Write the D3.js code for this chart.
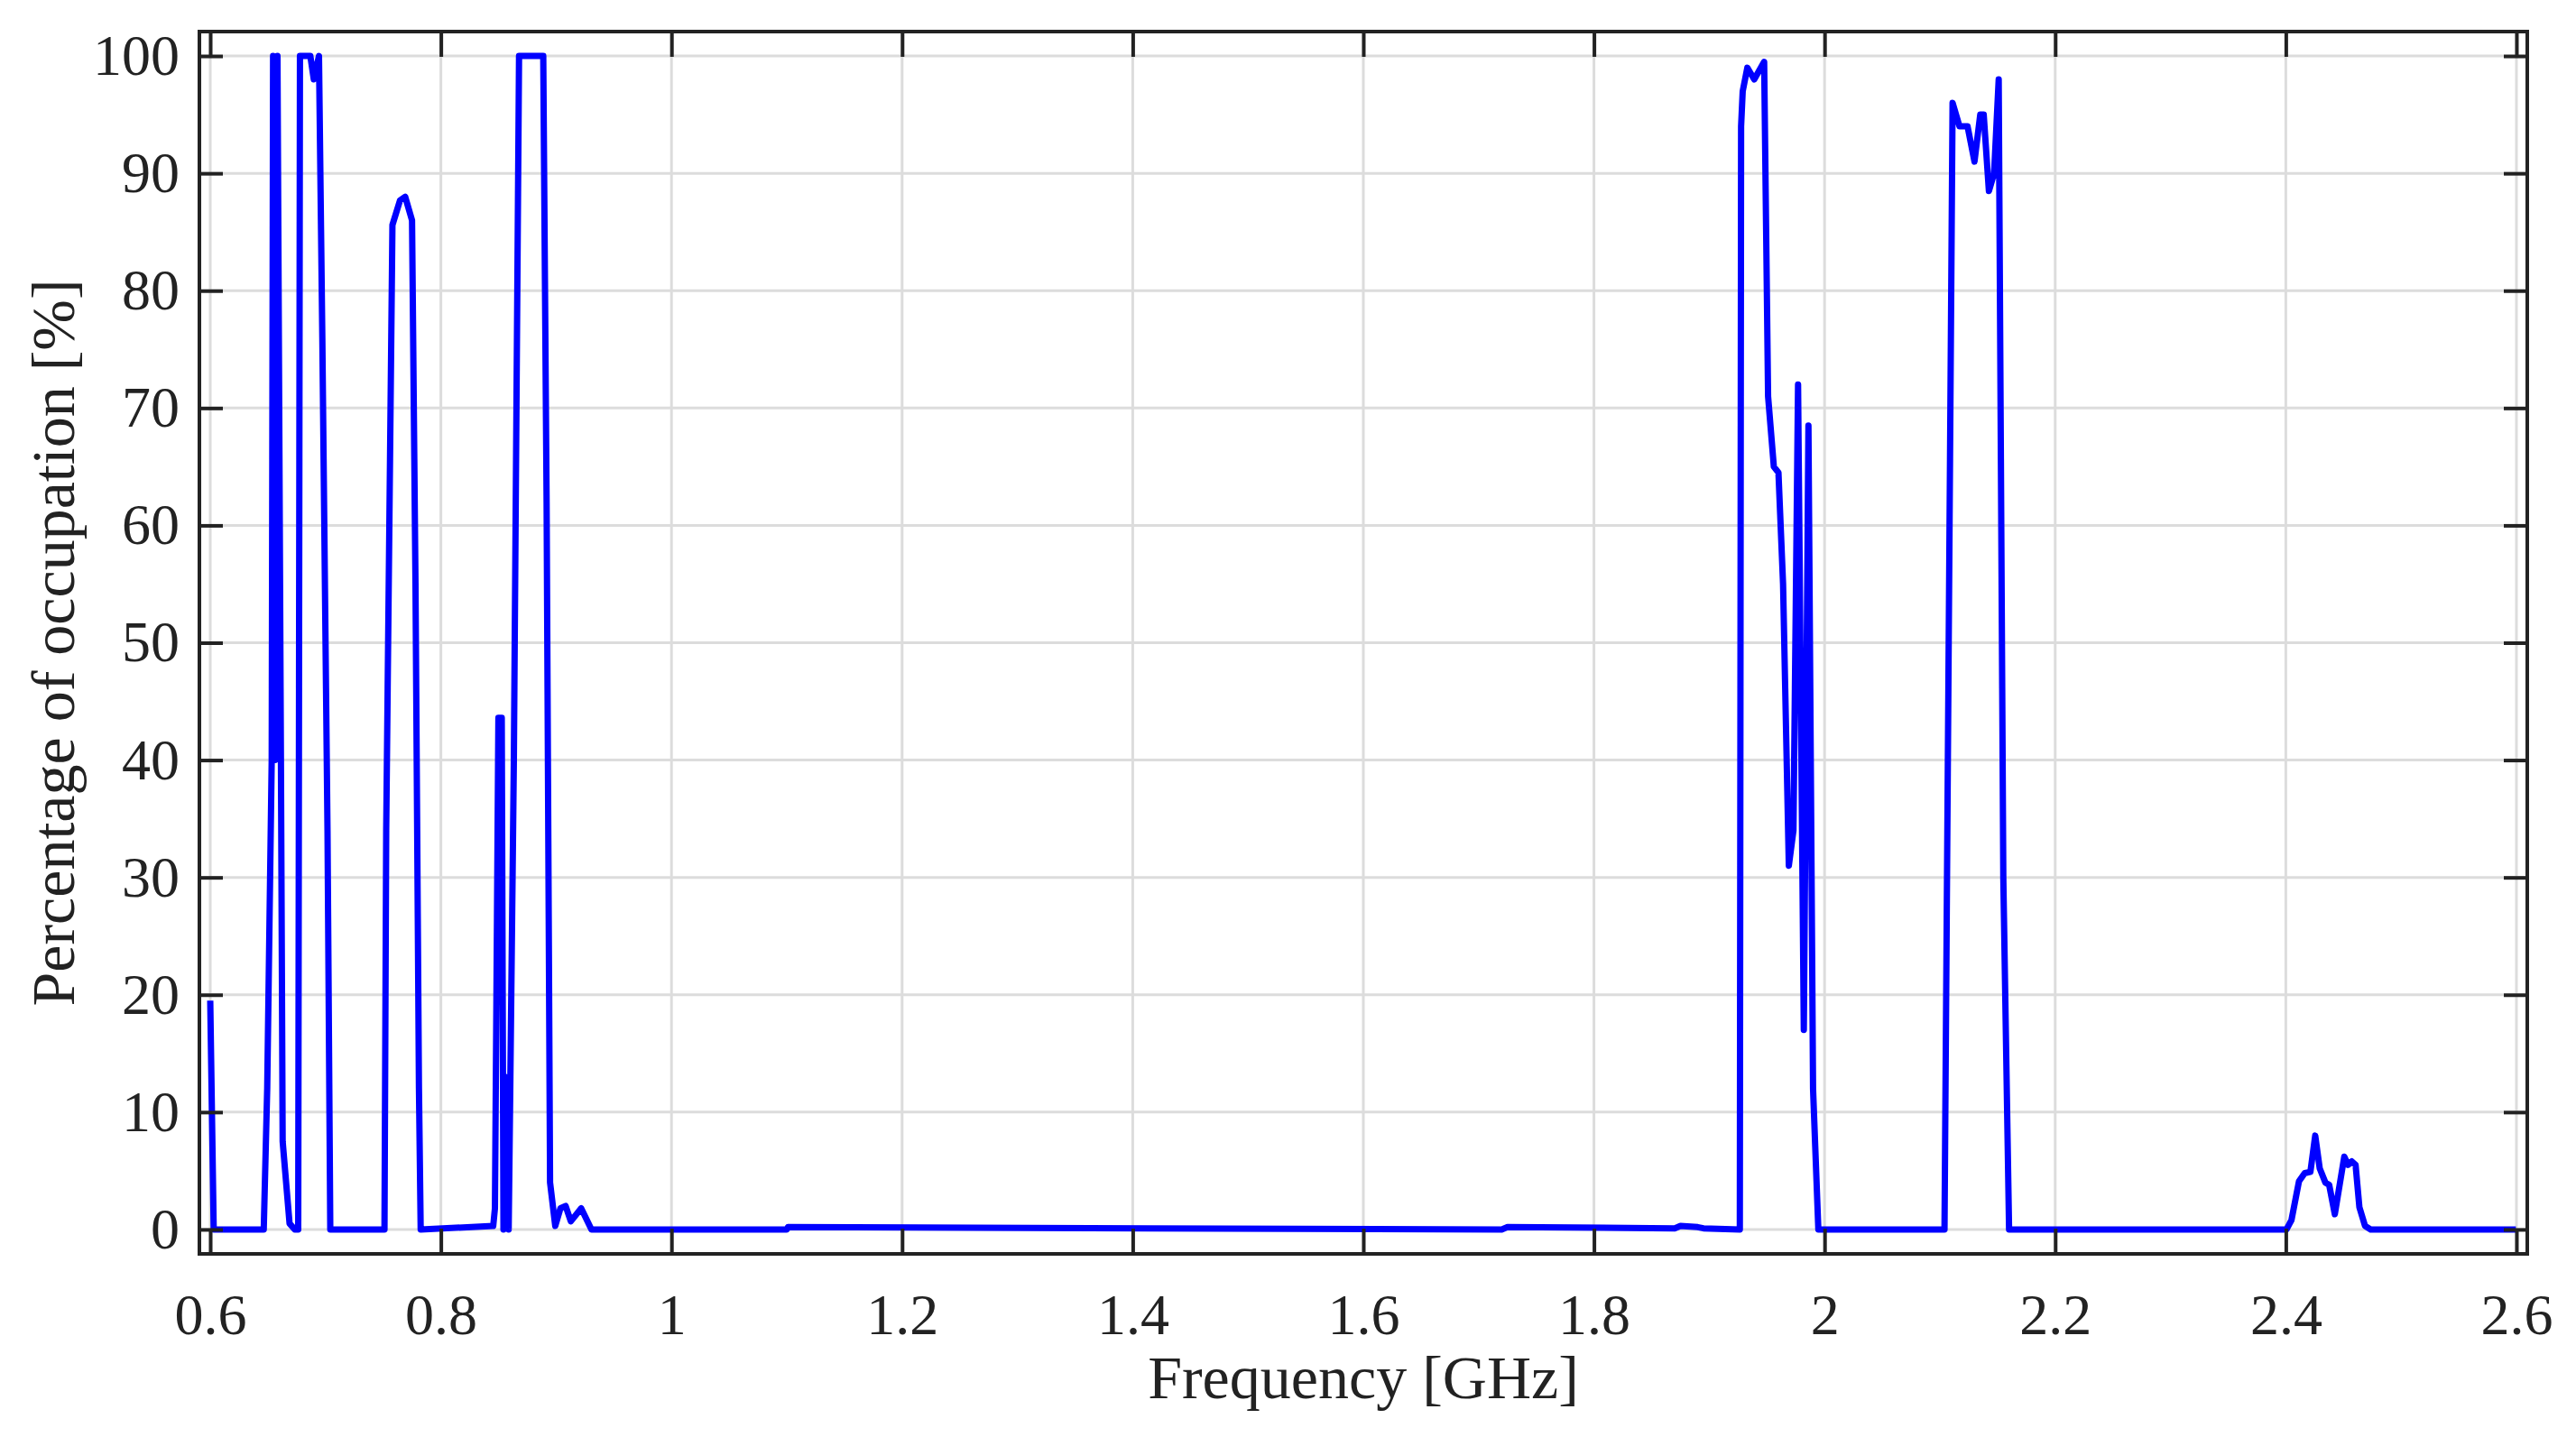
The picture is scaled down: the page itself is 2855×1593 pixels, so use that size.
<!DOCTYPE html>
<html>
<head>
<meta charset="utf-8">
<script src="https://cdn.jsdelivr.net/npm/d3@7"></script>
<style>
  body { margin: 0; background: #fff; }
  text { font-family: "Liberation Serif", "DejaVu Serif", serif; fill: #222; }
</style>
</head>
<body>
<div id="div"></div>
<script>
// frequency [GHz] and occupation [%]
var freq = [0.600, 0.603, 0.6464, 0.6494, 0.6533, 0.6545, 0.6563, 0.6583, 0.6613, 0.6628, 0.6688, 0.6733,
    0.6763, 0.6778, 0.6868, 0.6898, 0.6943, 0.6972, 0.7017, 0.7041,
    0.7511, 0.7526, 0.7580, 0.7646, 0.7691, 0.7750, 0.7780, 0.7810, 0.7825,
    0.8454, 0.8469, 0.8499, 0.8528, 0.8543, 0.8558, 0.8588, 0.8603, 0.8633, 0.8678, 0.8888, 0.8917, 0.8947,
    0.8992, 0.9037, 0.9082, 0.9127, 0.9217, 0.9306,
    1.10, 1.101, 1.72, 1.725, 1.87, 1.875, 1.89, 1.895, 1.9265,
    1.9276, 1.929, 1.933, 1.939, 1.9476, 1.951, 1.956, 1.960, 1.964, 1.969, 1.973, 1.977, 1.982, 1.986, 1.990, 1.9946,
    2.104, 2.111, 2.117, 2.124, 2.130, 2.135, 2.138, 2.1425, 2.147, 2.151, 2.155, 2.160,
    2.4006, 2.4049, 2.4114, 2.4164, 2.4213, 2.4255, 2.4294, 2.4343, 2.4376, 2.4425, 2.4507, 2.4540, 2.4572,
    2.4605, 2.4638, 2.4687, 2.4736, 2.5995];
var occ = [19.5, 0, 0, 12, 40, 100, 40, 100, 40, 7.5, 0.5, 0,
    0, 100, 100, 98, 100, 76, 34, 0,
    0, 34, 85.6, 87.7, 88, 86, 55, 12, 0,
    0.3, 1.8, 43.6, 43.6, 0, 13, 0, 13, 40, 100, 100, 62, 4,
    0.3, 1.8, 2, 0.7, 1.8, 0,
    0, 0.2, 0, 0.2, 0.1, 0.3, 0.2, 0.1, 0,
    94, 97, 99, 98, 99.5, 71, 65, 64.5, 55, 31, 34, 72, 17, 68.5, 12, 0,
    0, 96, 94, 94, 91, 95, 95, 88.5, 90, 98, 30, 0,
    0, 0.8, 4.1, 4.8, 4.9, 8.0, 5.2, 4.0, 3.8, 1.3, 6.2, 5.5, 5.8,
    5.5, 1.9, 0.3, 0, 0];
var xTicks = [0.6, 0.8, 1, 1.2, 1.4, 1.6, 1.8, 2, 2.2, 2.4, 2.6];
var yTicks = [0, 10, 20, 30, 40, 50, 60, 70, 80, 90, 100];

var width = 2855, height = 1593;
var pLeft = 221, pRight = 2801, pTop = 35, pBottom = 1390;

var svg = d3.select('#div').append('svg')
    .attr('width', width)
    .attr('height', height);

var x = d3.scaleLinear().domain([0.5906, 2.6094]).range([pLeft, pRight]);
var y = d3.scaleLinear().domain([-2.08, 102.08]).range([pBottom, pTop]);

// grid
var grid = svg.append('g').attr('stroke', '#dcdcdc').attr('stroke-width', 3);
grid.selectAll('.gx').data(xTicks).enter().append('line')
    .attr('x1', d => x(d)).attr('x2', d => x(d)).attr('y1', pTop).attr('y2', pBottom);
grid.selectAll('.gy').data(yTicks).enter().append('line')
    .attr('y1', d => y(d)).attr('y2', d => y(d)).attr('x1', pLeft).attr('x2', pRight);

// data line
var line = d3.line().x((d, i) => x(freq[i])).y(d => y(d));
svg.append('path')
    .datum(occ)
    .attr('d', line)
    .attr('fill', 'none')
    .attr('stroke', '#0000ff')
    .attr('stroke-width', 7)
    .attr('stroke-linejoin', 'round');

// axes with inward ticks on all four sides
function axisStyle(g) {
    g.select('.domain').remove();
    g.selectAll('line').attr('stroke', '#222').attr('stroke-width', 4);
    g.selectAll('text').style('font-size', '64px').attr('fill', '#222');
}
svg.append('g').attr('transform', 'translate(0,' + pBottom + ')')
    .call(d3.axisBottom(x).tickValues(xTicks).tickSize(-28).tickPadding(44).tickFormat(d3.format('')))
    .call(axisStyle);
svg.append('g').attr('transform', 'translate(0,' + pTop + ')')
    .call(d3.axisTop(x).tickValues(xTicks).tickSize(-28).tickFormat(''))
    .call(axisStyle);
svg.append('g').attr('transform', 'translate(' + pLeft + ',0)')
    .call(d3.axisLeft(y).tickValues(yTicks).tickSize(-26).tickPadding(22))
    .call(axisStyle);
svg.append('g').attr('transform', 'translate(' + pRight + ',0)')
    .call(d3.axisRight(y).tickValues(yTicks).tickSize(-26).tickFormat(''))
    .call(axisStyle);

svg.append('rect')
    .attr('x', pLeft).attr('y', pTop)
    .attr('width', pRight - pLeft).attr('height', pBottom - pTop)
    .attr('fill', 'none').attr('stroke', '#222').attr('stroke-width', 4);

svg.append('text')
    .text('Frequency [GHz]')
    .attr('x', (pLeft + pRight) / 2)
    .attr('y', 1550)
    .attr('text-anchor', 'middle')
    .style('font-size', '68px');

svg.append('text')
    .text('Percentage of occupation [%]')
    .attr('transform', 'translate(82,' + ((pTop + pBottom) / 2) + ') rotate(-90)')
    .attr('text-anchor', 'middle')
    .style('font-size', '68px');
</script>
</body>
</html>
